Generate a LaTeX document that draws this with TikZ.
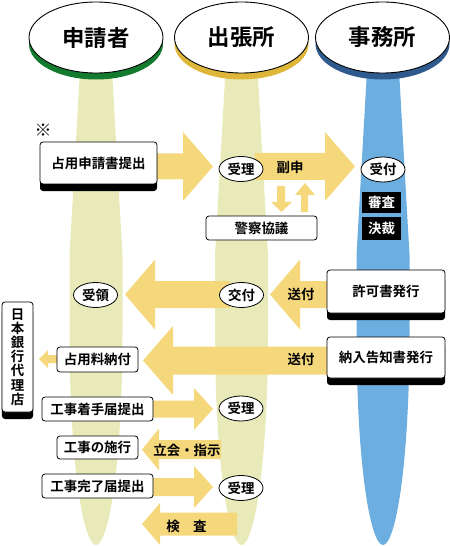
\documentclass[tikz,border=0pt]{standalone}
\usepackage{fontspec}
\setmainfont{Noto Sans CJK JP}[BoldFont={Noto Sans CJK JP Bold}]
\usetikzlibrary{shapes.geometric,shadows}
\definecolor{colbeam}{RGB}{232,235,185}
\definecolor{colblue}{RGB}{108,174,224}
\definecolor{colarrow}{RGB}{246,216,124}
\definecolor{rimgreen}{RGB}{20,122,46}
\definecolor{rimyellow}{RGB}{222,182,58}
\definecolor{rimblue}{RGB}{46,90,142}
\newcommand{\beam}[2]{\fill[#2] (#1-16,70) -- (#1-26.5,255) -- (#1-26.5,330) .. controls (#1-26.5,470) and (#1-12,545) .. (#1,545) .. controls (#1+12,545) and (#1+26.5,470) .. (#1+26.5,330) -- (#1+26.5,255) -- (#1+16,70) -- cycle;}
\newcommand{\harrow}[6]{\fill[colarrow] (#1,#4-#5) -- (#2,#4-#5) -- (#2,#4-#6) -- (#3,#4) -- (#2,#4+#6) -- (#2,#4+#5) -- (#1,#4+#5) -- cycle;}
\tikzset{
  headoval/.style={ellipse, draw=black, line width=0.9bp, fill=white, inner sep=0pt,
    minimum width=134bp, minimum height=71bp, font=\bfseries\fontsize{22.5}{26}\selectfont,
    drop shadow={shadow xshift=0bp, shadow yshift=-6.5bp, fill=#1, opacity=1}},
  box/.style={rectangle, draw=black, line width=0.8bp, fill=white, rounded corners=3bp,
    inner sep=0pt, font=\bfseries\fontsize{13.5}{14.2}\selectfont},
  shadowbox/.style={box, drop shadow={shadow xshift=0bp, shadow yshift=-7bp, fill=black, opacity=1}},
  blackbox/.style={rectangle, fill=black, text=white, inner sep=0pt,
    font=\bfseries\fontsize{13.5}{16}\selectfont},
  oval/.style={ellipse, draw=black, line width=0.8bp, fill=white, inner sep=0pt,
    minimum width=44bp, minimum height=25bp, font=\bfseries\fontsize{13.5}{16}\selectfont},
  lbl/.style={inner sep=0pt, font=\bfseries\fontsize{13.5}{16}\selectfont}
}
\begin{document}
\begin{tikzpicture}[x=1bp, y=-1bp]
\useasboundingbox (0,0) rectangle (450,546);
% beams
\beam{96}{colbeam}
\beam{241.5}{colbeam}
\beam{383}{colblue}
% headings
\node[headoval=rimgreen] (hA) at (96,37.5) {申請者};
\node[headoval=rimyellow] (hB) at (241.5,37.5) {出張所};
\node[headoval=rimblue] (hC) at (382.5,37.5) {事務所};
% fat arrows
\harrow{150}{183}{213}{166.5}{13}{34.5}
\harrow{255}{325}{355}{166.5}{13.5}{34.5}
\harrow{335}{300}{270}{294.5}{13.5}{35}
\harrow{230}{155}{125}{294.5}{13.5}{35}
\harrow{335}{173}{143}{360.5}{14}{34.5}
\harrow{60}{48}{39}{359}{4}{9}
\harrow{150}{194}{213}{409}{8.5}{21}
\harrow{221}{159}{142}{449.5}{9.5}{21}
\harrow{150}{194}{213}{487}{9}{21}
\harrow{237}{160}{142}{524}{11.5}{21}
% small vertical arrows
\fill[colarrow] (277,186) -- (285,186) -- (285,202) -- (292,202) -- (281.5,212) -- (271,202) -- (277,202) -- cycle;
\fill[colarrow] (301,212) -- (308,212) -- (308,195) -- (315,195) -- (305,183) -- (295,195) -- (301,195) -- cycle;
% note mark
\node[inner sep=0pt, font=\bfseries\fontsize{17}{18}\selectfont] (mark) at (43,130) {※};
% boxes
\node[shadowbox, minimum width=117bp, minimum height=42bp] (b1) at (98.5,163) {占用申請書提出};
\node[shadowbox, minimum width=118bp, minimum height=43bp] (b2) at (386,291.5) {許可書発行};
\node[shadowbox, minimum width=118bp, minimum height=41bp] (b3) at (386,357.5) {納入告知書発行};
\node[shadowbox, minimum width=31bp, minimum height=110bp, align=center] (bank) at (17.5,357) {日\\本\\銀\\行\\代\\理\\店};
\node[box, minimum width=111bp, minimum height=24bp] (police) at (261.5,228) {警察協議};
\node[box, minimum width=81bp, minimum height=25bp] (pay) at (97.5,359.5) {占用料納付};
\node[box, minimum width=111bp, minimum height=24bp] (start) at (97.5,409) {工事着手届提出};
\node[box, minimum width=81bp, minimum height=23bp] (work) at (97.5,447.5) {工事の施行};
\node[box, minimum width=111bp, minimum height=24bp] (done) at (97.5,486) {工事完了届提出};
\node[blackbox, minimum width=39bp, minimum height=21bp] (shinsa) at (381.5,202.5) {審査};
\node[blackbox, minimum width=39bp, minimum height=23bp] (kessai) at (381.5,228.5) {決裁};
% ovals
\node[oval] (o1) at (241,169) {受理};
\node[oval] (o2) at (383,169.5) {受付};
\node[oval] (o3) at (241.5,295) {交付};
\node[oval] (o4) at (95.5,295) {受領};
\node[oval] (o5) at (241,408.5) {受理};
\node[oval] (o6) at (241,488) {受理};
% labels
\node[lbl] (l1) at (290,167) {副申};
\node[lbl] (l2) at (301,294) {送付};
\node[lbl] (l3) at (301,359) {送付};
\node[lbl] (l4) at (187,450) {立会・指示};
\node[lbl] (l5) at (186.5,526) {検　査};
\end{tikzpicture}
\end{document}
